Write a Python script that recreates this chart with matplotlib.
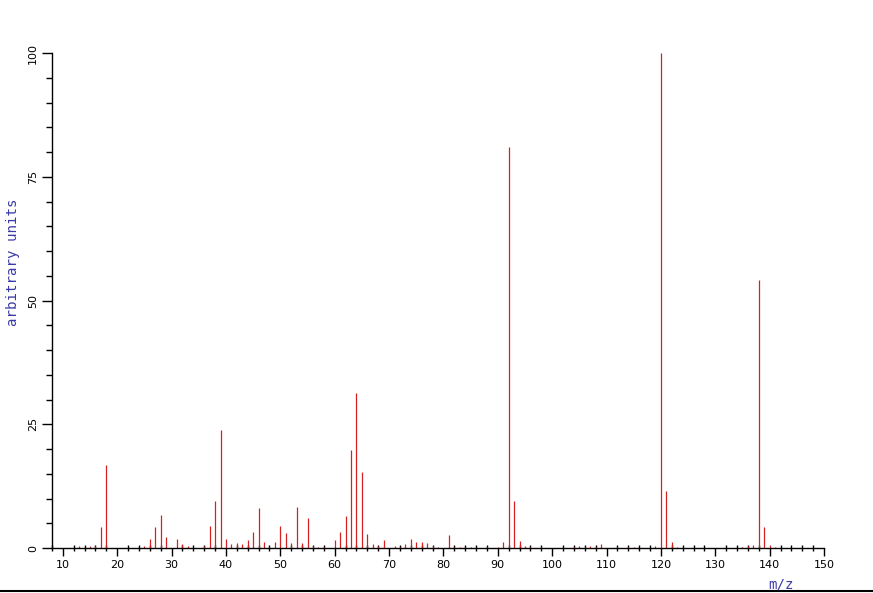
import matplotlib
matplotlib.use("Agg")
import matplotlib.pyplot as plt
from matplotlib.ticker import MultipleLocator
from matplotlib.lines import Line2D

mz = [13, 15, 16, 17, 18, 25, 26, 27, 28, 29, 31, 32, 33, 36, 37, 38, 39, 40,
      41, 42, 43, 44, 45, 46, 47, 48, 49, 50, 51, 52, 53, 54, 55, 56, 57, 58,
      60, 61, 62, 63, 64, 65, 66, 67, 68, 69, 71, 72, 73, 74, 75, 76, 77, 78,
      79, 81, 82, 83, 84, 85, 88, 90, 91, 92, 93, 94, 95, 96, 98,
      104, 105, 106, 107, 108, 109, 112, 114, 115, 119, 120, 121, 122, 123,
      135, 136, 137, 138, 139, 140, 141]
intensity = [0.5, 0.4, 0.4, 4.3, 16.8, 0.5, 1.9, 4.2, 6.6, 2.2, 1.9, 0.8, 0.5, 0.5, 4.4, 9.5, 23.8, 1.9,
             0.8, 1.0, 0.8, 1.7, 3.2, 8.1, 1.2, 0.3, 1.2, 4.4, 3.0, 1.0, 8.3, 1.0, 6.1, 0.5, 0.3, 0.3,
             1.7, 3.2, 6.4, 19.7, 31.4, 15.4, 2.8, 0.8, 0.5, 1.7, 0.5, 0.3, 0.8, 1.9, 1.2, 1.2, 1.0, 0.5,
             0.3, 2.6, 0.3, 0.3, 0.3, 0.3, 0.3, 0.3, 1.2, 81.0, 9.4, 1.5, 0.5, 0.3, 0.3,
             0.3, 0.4, 0.3, 0.4, 0.3, 0.8, 0.3, 0.3, 0.3, 0.5, 100.0, 11.6, 1.2, 0.3,
             0.3, 0.4, 0.6, 54.1, 4.3, 0.6, 0.3]

x_major = [10, 20, 30, 40, 50, 60, 70, 80, 90, 100, 110, 120, 130, 140, 150]
y_major = [0, 25, 50, 75, 100]

fig = plt.figure(figsize=(8.73, 5.93), dpi=100)
ax = fig.add_axes([52/873, 45/593, (824-52)/873, (548-53)/593])

ax.vlines(mz, 0, intensity, colors="#d42222", linewidth=0.9)

ax.set_xlim(8, 150)
ax.set_ylim(0, 100)
for s in ["top", "right"]:
    ax.spines[s].set_visible(False)
for s in ["left", "bottom"]:
    ax.spines[s].set_linewidth(1.0)
    ax.spines[s].set_color("black")

ax.set_xticks(x_major)
ax.set_xticklabels([str(v) for v in x_major])
ax.xaxis.set_minor_locator(MultipleLocator(2))
ax.set_yticks(y_major)
ax.set_yticklabels([str(v) for v in y_major], rotation=90, va="center")
ax.yaxis.set_minor_locator(MultipleLocator(5))

ax.tick_params(axis="x", which="major", direction="out", length=6, width=1, labelsize=8, pad=3)
ax.tick_params(axis="x", which="minor", direction="inout", length=5, width=1)
ax.tick_params(axis="y", which="major", direction="out", length=7, width=1, labelsize=8, pad=3)
ax.tick_params(axis="y", which="minor", direction="out", length=4, width=1)

fig.text(13/873, 1 - 262/593, "arbitrary units", rotation=90, color="#3a3aa8",
         family="DejaVu Sans Mono", fontsize=10.2, ha="center", va="center")
fig.text(781/873, 1 - 585/593, "m/z", color="#3a3aa8",
         family="DejaVu Sans Mono", fontsize=10.2, ha="center", va="center")

fig.add_artist(Line2D([0, 1], [2.5/593, 2.5/593], color="black", linewidth=1.5,
                      transform=fig.transFigure))

fig.savefig("out.png", dpi=100)
